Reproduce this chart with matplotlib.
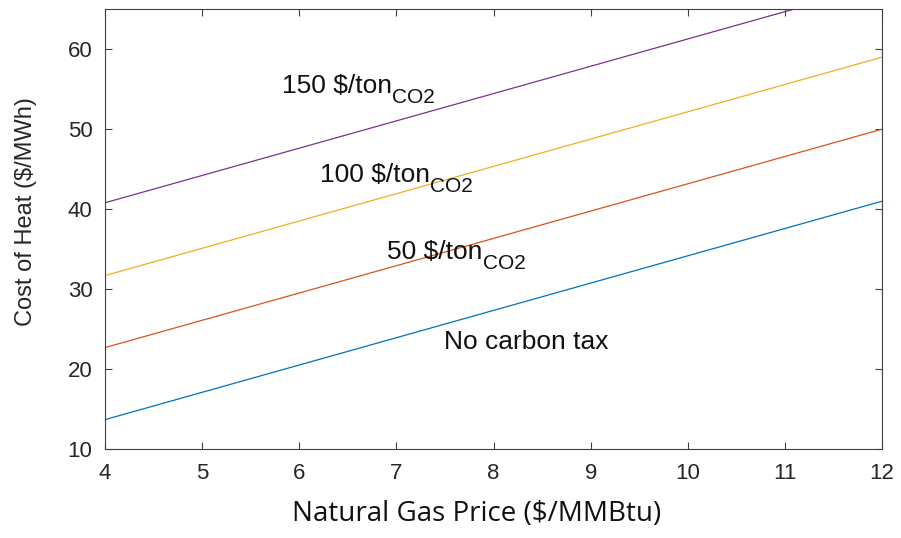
import matplotlib.pyplot as plt

# heat cost vs. gas price for a few carbon tax levels
gas_price = [4, 12]
cost_no_tax = [13.7, 41.0]
cost_tax_50 = [22.7, 50.0]
cost_tax_100 = [31.7, 59.0]
cost_tax_150 = [40.8, 68.1]

series = [
    (cost_no_tax, '#0072BD', 'No carbon tax', '', (7.49, 22.5)),
    (cost_tax_50, '#D95319', '50 $/ton', 'CO2', (6.90, 33.75)),
    (cost_tax_100, '#EDB120', '100 $/ton', 'CO2', (6.21, 43.4)),
    (cost_tax_150, '#7E2F8E', '150 $/ton', 'CO2', (5.82, 54.5)),
]

plt.rcParams['font.family'] = ['Liberation Sans', 'DejaVu Sans']
plt.rcParams['text.parse_math'] = False

fig = plt.figure(figsize=(9.01, 5.38), dpi=100)
ax = fig.add_axes([0.1165, 0.165, 0.8625, 0.818])

for values, color, label, sub, pos in series:
    ax.plot(gas_price, values, color=color, lw=0.9)
    t = ax.text(pos[0], pos[1], label, fontsize=19, color='#111111', va='baseline', ha='left')
    if sub:
        # subscript placed just after the label, dropped below its baseline
        ax.annotate(sub, xy=(1, 0), xycoords=t, xytext=(0.5, -3.5), textcoords='offset points',
                    fontsize=15, color='#111111', va='baseline', ha='left')

ax.set_xlim(4, 12)
ax.set_ylim(10, 65)
ax.set_xticks(range(4, 13))
ax.set_yticks(range(10, 61, 10))

ax.tick_params(direction='in', length=5, width=0.8, colors='#404040', labelcolor='#262626',
               labelsize=16, top=True, right=True)
ax.tick_params(axis='x', pad=10)
ax.tick_params(axis='y', pad=9)
for sp in ax.spines.values():
    sp.set_color('#404040')
    sp.set_linewidth(0.8)

fig.text(26 / 901, 1 - 212 / 538, 'Cost of Heat ($/MWh)', rotation=90, fontsize=17,
         color='#262626', ha='center', va='center')
fig.text(477 / 901, 1 - 521 / 538, 'Natural Gas Price ($/MMBtu)', fontsize=20,
         family=['Open Sans', 'DejaVu Sans'], color='#111111', ha='center', va='baseline')

fig.savefig('out.png', dpi=100)
